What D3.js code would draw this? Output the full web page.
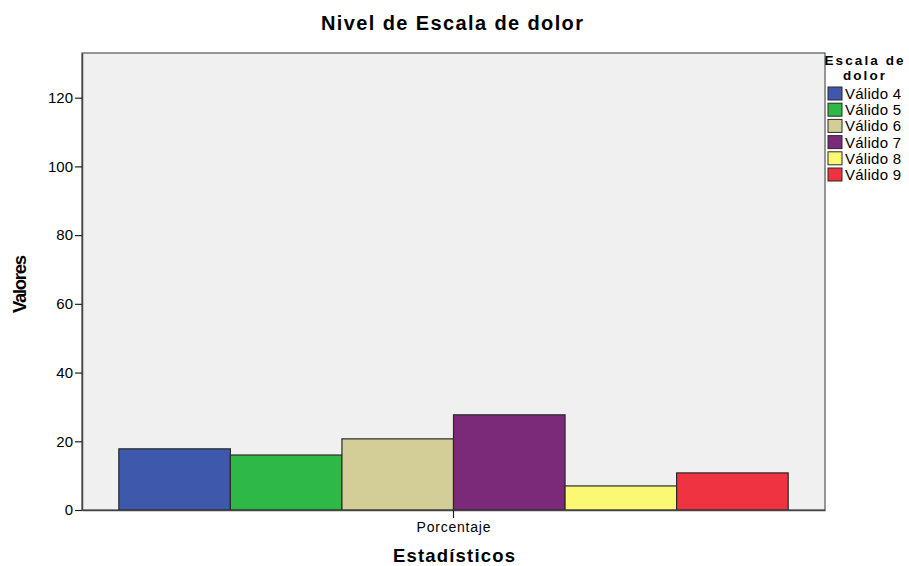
<!DOCTYPE html>
<html>
<head>
<meta charset="utf-8">
<script src="https://cdn.jsdelivr.net/npm/d3@7"></script>
<style>
  html, body { margin: 0; padding: 0; background: #fff; }
  svg text { font-family: "Liberation Sans", Arial, sans-serif; fill: #000; }
</style>
</head>
<body>
<svg id="chart" width="909" height="566"></svg>
<script>
// Pain-scale distribution (percent of respondents)
const categories = ["Porcentaje"];
const seriesNames = ["Válido 4", "Válido 5", "Válido 6", "Válido 7", "Válido 8", "Válido 9"];
const seriesValues = [17.8, 16.0, 20.7, 27.7, 7.0, 10.8];
const seriesColors = ["#3e58ac", "#2eb848", "#d3ce97", "#7b2a7a", "#fbf873", "#ef3340"];
const yTicks = [0, 20, 40, 60, 80, 100, 120];

const svg = d3.select("#chart");
const plot = { left: 82, top: 53, right: 825, bottom: 510 };
const font = "Liberation Sans, Arial, sans-serif";

const x0 = d3.scaleBand().domain(categories).range([plot.left, plot.right]).paddingInner(0).paddingOuter(0.055);
const x1 = d3.scaleBand().domain(seriesNames).range([0, x0.bandwidth()]).padding(0);
const y = d3.scaleLinear().domain([0, 133]).range([plot.bottom, plot.top]);

// plot background
svg.append("rect")
  .attr("x", plot.left).attr("y", plot.top)
  .attr("width", plot.right - plot.left).attr("height", plot.bottom - plot.top)
  .attr("fill", "#f0f0f0").attr("stroke", "#555").attr("stroke-width", 1.2);

// bars
const rows = seriesNames.map((s, i) => ({ name: s, value: seriesValues[i], color: seriesColors[i], cat: categories[0] }));
svg.append("g").selectAll("rect").data(rows).join("rect")
  .attr("x", d => x0(d.cat) + x1(d.name))
  .attr("y", d => y(d.value))
  .attr("width", x1.bandwidth())
  .attr("height", d => y(0) - y(d.value))
  .attr("fill", d => d.color)
  .attr("stroke", "#2a2a2a").attr("stroke-width", 1.2);

// y axis
const yAxis = svg.append("g").attr("transform", `translate(${plot.left},0)`)
  .call(d3.axisLeft(y).tickValues(yTicks).tickSize(7).tickSizeOuter(0).tickPadding(2));
yAxis.select(".domain").attr("stroke", "#444").attr("stroke-width", 1.5);
yAxis.selectAll(".tick line").attr("stroke", "#222").attr("stroke-width", 1.2);
yAxis.selectAll(".tick text").attr("font-size", 15).style("font-family", font);

// x axis
const xAxis = svg.append("g").attr("transform", `translate(0,${plot.bottom})`)
  .call(d3.axisBottom(x0).tickSize(8).tickPadding(4).tickSizeOuter(0));
xAxis.select(".domain").attr("stroke", "#444").attr("stroke-width", 1.5);
xAxis.selectAll(".tick line").attr("stroke", "#222").attr("stroke-width", 1.2);
xAxis.selectAll(".tick text").attr("font-size", 14).style("font-family", font)
  .attr("textLength", 74).attr("lengthAdjust", "spacing");

// titles
svg.append("text").attr("x", 452).attr("y", 30).attr("text-anchor", "middle")
  .attr("font-size", 20).attr("font-weight", "bold")
  .attr("textLength", 262).attr("lengthAdjust", "spacing").text("Nivel de Escala de dolor");
svg.append("text").attr("x", 454).attr("y", 562).attr("text-anchor", "middle")
  .attr("font-size", 18.5).attr("font-weight", "bold")
  .attr("textLength", 122).attr("lengthAdjust", "spacing").text("Estadísticos");
svg.append("text").attr("transform", "translate(26,284) rotate(-90)").attr("text-anchor", "middle")
  .attr("font-size", 18.5).attr("font-weight", "bold")
  .attr("textLength", 58).attr("lengthAdjust", "spacing").text("Valores");

// legend
const lg = svg.append("g");
lg.append("text").attr("x", 864).attr("y", 65).attr("text-anchor", "middle")
  .attr("font-size", 13.5).attr("font-weight", "bold")
  .attr("textLength", 79).attr("lengthAdjust", "spacing").text("Escala de");
lg.append("text").attr("x", 864).attr("y", 80).attr("text-anchor", "middle")
  .attr("font-size", 13.5).attr("font-weight", "bold")
  .attr("textLength", 42).attr("lengthAdjust", "spacing").text("dolor");
const items = lg.selectAll("g.item").data(rows).join("g").attr("class", "item")
  .attr("transform", (d, i) => `translate(828,${87 + i * 16.2})`);
items.append("rect").attr("width", 14).attr("height", 13)
  .attr("fill", d => d.color).attr("stroke", "#2a2a2a").attr("stroke-width", 1);
items.append("text").attr("x", 17).attr("y", 12).attr("font-size", 15)
  .attr("textLength", 56).attr("lengthAdjust", "spacing").text(d => d.name);
</script>
</body>
</html>
